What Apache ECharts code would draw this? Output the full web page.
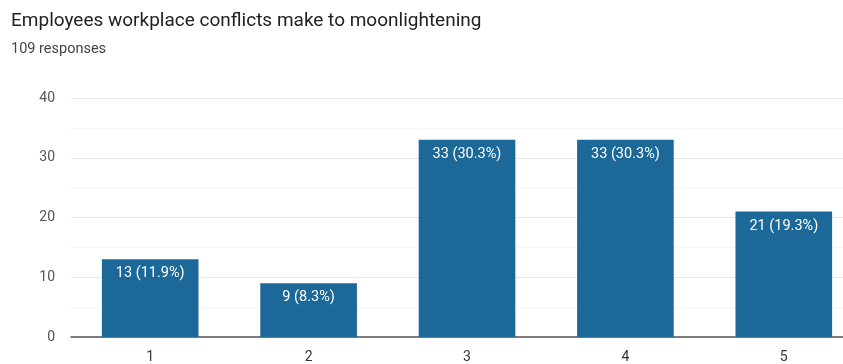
<!DOCTYPE html>
<html>
<head>
<meta charset="utf-8">
<script src="https://cdn.jsdelivr.net/npm/echarts@6/dist/echarts.min.js"></script>
<style>
  html, body { margin: 0; padding: 0; background: #fff; overflow: hidden; width: 843px; height: 364px; }
  /* the plot runs past the right edge of the window, so the last band is cut */
  #chart { width: 863px; height: 364px; }
</style>
</head>
<body>
<div id="chart"></div>
<script>
// Survey answers on a 1–5 scale
const titleText = 'Employees workplace conflicts make to moonlightening';
const subtitleText = '109 responses';
const totalResponses = 109;
const categories = ['1', '2', '3', '4', '5'];
const counts = [13, 9, 33, 33, 21];
const yTicks = { min: 0, max: 40, interval: 10 };

const chart = echarts.init(document.getElementById('chart'), null, { renderer: 'canvas' });

chart.setOption({
  backgroundColor: '#ffffff',
  animation: false,
  title: {
    text: titleText,
    subtext: subtitleText,
    left: 6,
    top: 7,
    itemGap: 11,
    textStyle: { fontFamily: 'Roboto', fontSize: 19, fontWeight: 'normal', color: '#222222' },
    subtextStyle: { fontFamily: 'Roboto', fontSize: 14.5, color: '#444444' }
  },
  grid: { left: 71, top: 98, right: 0, bottom: 26, containLabel: false },
  xAxis: {
    type: 'category',
    data: categories,
    axisTick: { show: false },
    axisLine: { lineStyle: { color: '#555555', width: 1.5 } },
    axisLabel: { fontFamily: 'Roboto', fontSize: 14, color: '#333333', margin: 13 }
  },
  yAxis: {
    type: 'value',
    min: yTicks.min,
    max: yTicks.max,
    interval: yTicks.interval,
    axisLine: { show: false },
    axisTick: { show: false },
    axisLabel: { fontFamily: 'Roboto', fontSize: 14, color: '#555555', margin: 16 },
    splitLine: { lineStyle: { color: '#e8e8e8', width: 1 } },
    minorTick: { show: false, splitNumber: 2 },
    minorSplitLine: { show: true, lineStyle: { color: '#f5f5f5', width: 1 } }
  },
  series: [{
    type: 'bar',
    data: counts,
    barWidth: '61%',
    itemStyle: { color: '#1b6899' },
    label: {
      show: true,
      position: 'insideTop',
      distance: 7,
      fontFamily: 'Roboto',
      fontSize: 14.5,
      color: '#ffffff',
      formatter: p => p.value + ' (' + (p.value / totalResponses * 100).toFixed(1) + '%)'
    }
  }]
});
</script>
</body>
</html>
